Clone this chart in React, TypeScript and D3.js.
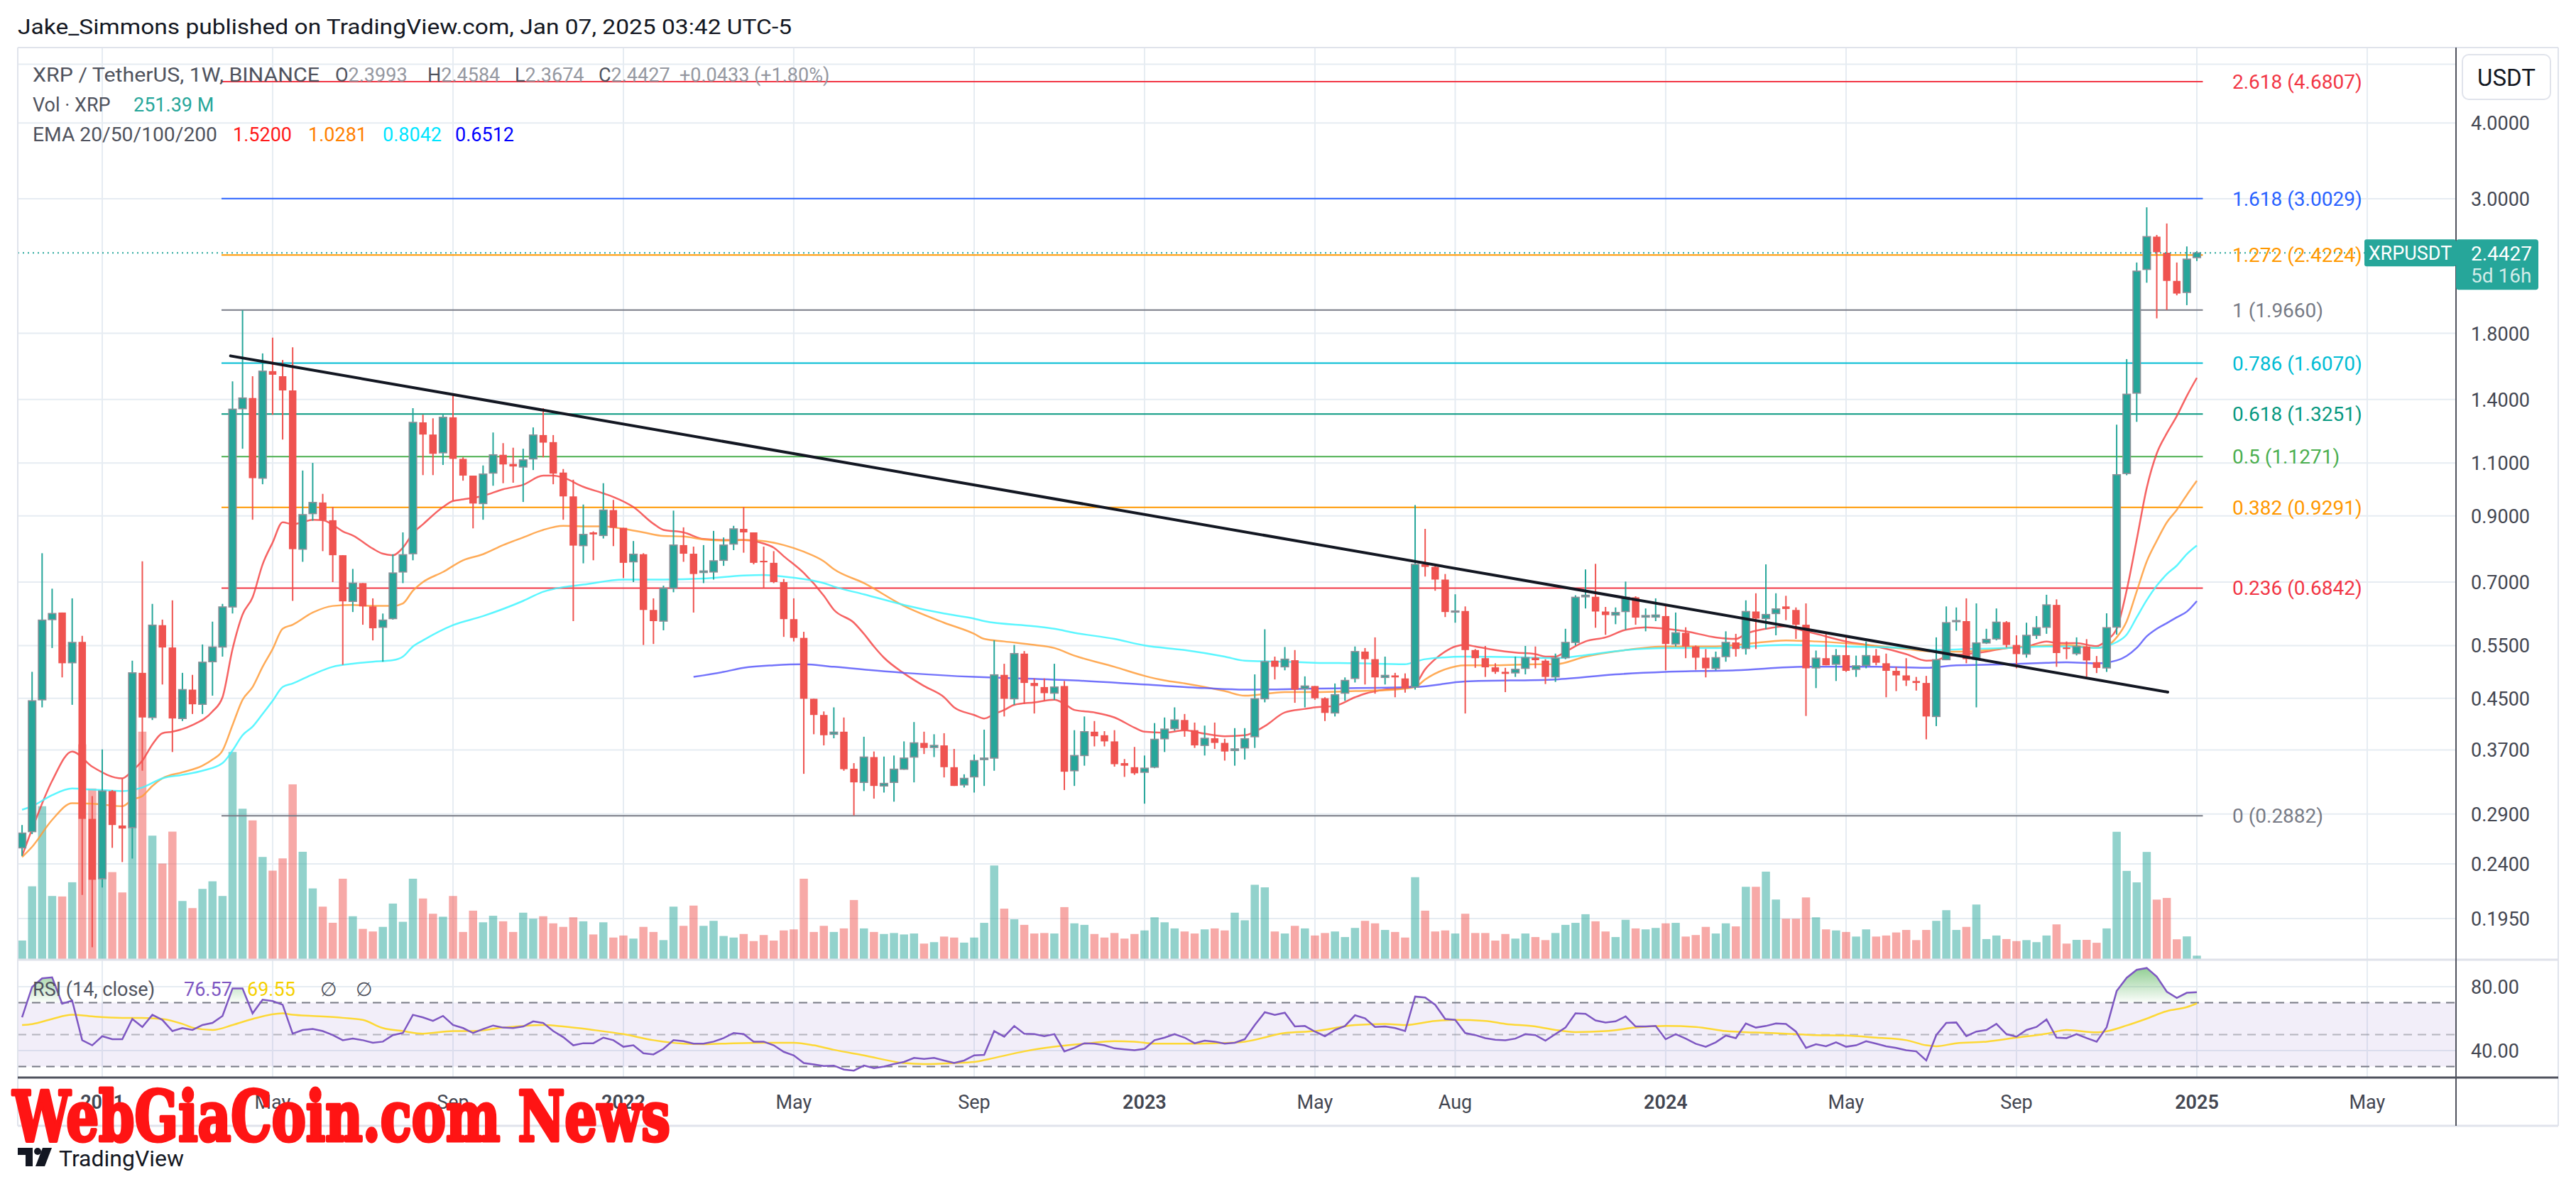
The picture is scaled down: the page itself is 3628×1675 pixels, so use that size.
import React from "react";
import * as d3 from "d3";

// weekly XRP/USDT bars, week 0 = 2021-01-04, first visible bar is week -8
const BASE = Date.UTC(2021, 0, 4);
const WEEK_MS = 7 * 24 * 3600 * 1000;
const FIRST_WEEK = -8;

const opens = [
  .2551, .2713, .4476, .6069, .6234, .5152, .5576, .2848, .2269, .3165,
  .2777, .2755, .4958, .4185, .5942, .5459, .4169, .4652, .44, .5172,
  .5469, .6368, 1.3519, 1.4077, 1.0384, 1.5589, 1.5292, 1.4489, .793, .9075,
  .9468, .8851, .775, .6504, .6971, .638, .5895, .6092, .7272, .7794,
  1.2834, 1.2255, 1.1434, 1.3083, 1.1173, 1.0485, .943, 1.0587, 1.1346, 1.096,
  1.0834, 1.1173, 1.2231, 1.1907, 1.0607, .9689, .8038, .8451, .8354, .9198,
  .8599, .7558, .7779, .6295, .6034, .6838, .8054, .7794, .7258, .7272,
  .7602, .8085, .8565, .8451, .7587, .7529, .6998, .608, .5662, .4493,
  .4225, .3927, .3965, .3445, .3271, .3601, .3227, .3271, .3439, .3601,
  .38, .3735, .3764, .3465, .324, .334, .3567, .3587, .492, .4493,
  .5334, .4771, .4698, .459, .4716, .3419, .3622, .3965, .3912, .3822,
  .3519, .3465, .3399, .3465, .386, .4012, .4145, .3988, .3764, .3867,
  .38, .3692, .3728, .389, .4493, .5192, .5073, .5202, .467, .4716,
  .4502, .4258, .459, .4854, .5375, .5222, .4873, .491, .4854, .4698,
  .7485, .7414, .7065, .6246, .627, .5406, .5242, .5063, .4977, .4958,
  .5044, .5252, .5192, .4882, .5252, .5565, .6618, .6618, .6258, .6175,
  .6258, .6605, .6127, .6127, .6151, .5533, .5772, .548, .5252, .5044,
  .5273, .5565, .5438, .6258, .6092, .621, .638, .6295, .5952, .5053,
  .5242, .5122, .5303, .5025, .5102, .5293, .5142, .4996, .491, .4807,
  .4771, .4201, .5212, .6022, .6034, .5222, .5554, .564, .601, .5512,
  .5324, .5717, .5895, .6417, .5459, .5334, .5478, .5163, .5052, .5898,
  1.057, 1.434, 2.294, 2.598, 2.444, 2.196, 2.102, 2.3993,
];
const highs = [
  .2782, .4977, .7809, .6825, .6234, .6579, .5706, .3105, .3706, .3177,
  .3321, .5192, .7573, .6442, .6069, .6529, .4958, .492, .5522, .6022,
  .6442, 1.5, 1.964, 1.5292, 1.6676, 1.7703, 1.6264, 1.7066, 1.0689, 1.1003,
  .9783, .9305, .775, .7357, .6971, .6579, .621, .7779, .8451, 1.3545,
  1.321, 1.3033, 1.321, 1.4213, 1.1238, 1.0485, 1.0897, 1.235, 1.1861, 1.1657,
  1.1612, 1.259, 1.3545, 1.2231, 1.0751, 1.0323, .9395, .8484, 1.0187, .956,
  .8599, .8179, .7809, .6579, .6905, .918, .8615, .8007, .8054, .85,
  .829, .8665, .9305, .8451, .8007, .787, .7079, .6579, .5794, .4493,
  .4282, .4349, .4185, .3519, .389, .3678, .3608, .3622, .3822, .4113,
  .3965, .3927, .3942, .3714, .3373, .3636, .3996, .5608, .5132, .5512,
  .5386, .4854, .4854, .5132, .4807, .3988, .4201, .4129, .3973, .3988,
  .3574, .3742, .3622, .4097, .4185, .4349, .4241, .4105, .4058, .4105,
  .386, .4019, .4019, .4929, .585, .5273, .5469, .5406, .4892, .4716,
  .4519, .4762, .4873, .548, .5448, .5673, .5273, .4958, .4948, .9377,
  .8565, .7456, .7216, .6681, .638, .5427, .5491, .5142, .5053, .5273,
  .5491, .548, .5222, .5334, .5861, .6656, .7343, .75, .6368, .6356,
  .7011, .663, .6331, .6579, .6429, .6234, .5895, .5501, .5427, .5375,
  .5805, .575, .6529, .6707, .7485, .6707, .6643, .6356, .6454, .5396,
  .575, .5427, .5717, .5293, .5586, .5427, .5334, .5073, .5242, .4882,
  .4901, .5673, .638, .6356, .6579, .6454, .5861, .6331, .6034, .5717,
  .5998, .6151, .6669, .6554, .5586, .5673, .5635, .5285, .6216, 1.272,
  1.632, 2.355, 2.904, 2.615, 2.731, 2.355, 2.503, 2.4584,
];
const lows = [
  .2474, .2688, .4349, .5448, .4873, .4391, .2133, .1749, .2195, .2551,
  .2417, .245, .3419, .4145, .4743, .3671, .4129, .4241, .4241, .4546,
  .5273, .621, 1.1612, .8868, 1.0147, 1.321, 1.2023, .6516, .7558, .8834,
  .787, .6998, .5112, .6246, .5952, .5608, .5172, .6069, .6971, .7602,
  1.0505, 1.0505, 1.0918, .9541, 1.0285, .8582, .8868, 1.0089, 1.0187, 1.0206,
  .9486, 1.0709, 1.1238, 1.0147, .8868, .6034, .7515, .7602, .8258, .8022,
  .7106, .6998, .5512, .5533, .5827, .6733, .7558, .6234, .6971, .7065,
  .7443, .79, .7824, .7485, .6838, .6971, .5684, .5586, .3379, .3927,
  .3764, .3867, .3419, .2886, .3165, .3075, .3147, .304, .3432, .3271,
  .3643, .3601, .3333, .3227, .3208, .3147, .3227, .3419, .4201, .4391,
  .4408, .4249, .4459, .4476, .3177, .3227, .3485, .375, .375, .3472,
  .334, .3366, .3017, .3452, .3671, .3981, .389, .3728, .3622, .3714,
  .3553, .3485, .3567, .3728, .4433, .4835, .5006, .4425, .4349, .4476,
  .4129, .4201, .4459, .478, .4743, .4581, .4743, .4519, .4599, .4652,
  .7147, .6772, .6128, .5998, .4249, .5053, .4882, .4939, .4608, .4882,
  .4929, .5044, .4752, .479, .5222, .5501, .6331, .5884, .5728, .5964,
  .5839, .5952, .5805, .6034, .5006, .548, .5242, .5015, .4873, .5006,
  .5172, .5273, .5314, .5427, .585, .5717, .6057, .564, .4209, .4679,
  .5102, .4807, .4977, .4882, .5044, .5102, .4519, .4626, .4716, .4635,
  .3852, .405, .5202, .5817, .5142, .4349, .5533, .5608, .5459, .5044,
  .5252, .564, .575, .5073, .5222, .5297, .4889, .4954, .4976, .5734,
  1.05, 1.286, 2.181, 1.905, 1.968, 2.079, 2.003, 2.3674,
];
const closes = [
  .2698, .4459, .6057, .621, .5142, .5565, .2848, .226, .3165, .2782,
  .2745, .4958, .4185, .5942, .5459, .4169, .4652, .44, .5162, .5469,
  .6368, 1.3493, 1.4077, 1.0384, 1.5589, 1.538, 1.4489, .793, .904, .9468,
  .8851, .775, .6504, .6971, .638, .5872, .6057, .7244, .7764, 1.2834,
  1.2255, 1.139, 1.3083, 1.1173, 1.0485, .943, 1.0546, 1.1346, 1.0939, 1.0855,
  1.113, 1.2231, 1.1884, 1.0566, .9689, .8038, .8386, .8386, .9198, .8599,
  .7529, .7779, .6295, .6034, .6838, .8054, .7794, .7216, .73, .7587,
  .8054, .8565, .8451, .7529, .7544, .6998, .608, .5662, .4493, .4225,
  .3912, .3958, .3439, .3271, .3601, .3227, .3258, .3439, .3587, .38,
  .3728, .3764, .3465, .3227, .3321, .3553, .3587, .492, .4493, .5334,
  .4771, .4716, .459, .4698, .3406, .3622, .3965, .3897, .3822, .3505,
  .3485, .3386, .3452, .3852, .4004, .4145, .3988, .3764, .3867, .38,
  .3678, .3714, .386, .4493, .5172, .5073, .5222, .4652, .4716, .4502,
  .4258, .4563, .4817, .5375, .5222, .4873, .491, .4873, .4679, .7485,
  .7414, .7065, .6246, .627, .5406, .5242, .5063, .4977, .4939, .5025,
  .5252, .5202, .4882, .5242, .5565, .6605, .6656, .6258, .6175, .6234,
  .6605, .6115, .6163, .6175, .5533, .5772, .548, .5252, .5044, .5252,
  .5565, .5427, .6258, .6092, .6187, .6319, .6319, .5952, .5044, .5242,
  .5102, .5293, .4996, .5092, .5293, .5152, .4996, .491, .4817, .4771,
  .4201, .5212, .5998, .6046, .5222, .5554, .563, .601, .5512, .5324,
  .5717, .5884, .6417, .5345, .5427, .5478, .5197, .5052, .5885, 1.052,
  1.428, 2.279, 2.598, 2.449, 2.196, 2.093, 2.385, 2.4427,
];
// volume in millions of XRP
const volumes = [
  1190, 4550, 9515, 3950, 3920, 4800, 13350, 10615, 10460, 5430,
  4170, 11000, 14135, 7690, 5960, 7940, 3640, 3200, 4390, 4860,
  3950, 12880, 9360, 8635, 6370, 5520, 6280, 10870, 6690, 4420,
  3290, 2290, 5020, 2695, 1910, 1750, 2035, 3480, 2350, 5020,
  3795, 2850, 2665, 3950, 1720, 3040, 2320, 2725, 2380, 1720,
  2915, 2540, 2695, 2255, 2035, 2630, 2380, 1565, 2320, 1375,
  1500, 1310, 2035, 1720, 1215, 3290, 2100, 3355, 2100, 2410,
  1470, 1375, 1595, 1155, 1530, 1185, 1815, 1880, 5020, 1720,
  2100, 1720, 1940, 3700, 1940, 1720, 1595, 1655, 1565, 1625,
  1000, 1090, 1435, 1375, 1060, 1375, 2285, 5840, 3165, 2505,
  2160, 1625, 1655, 1625, 3260, 2255, 2160, 1595, 1375, 1655,
  1310, 1595, 1815, 2630, 2320, 1940, 1750, 1625, 1880, 1940,
  1815, 2915, 2445, 4645, 4485, 1750, 1625, 2100, 1940, 1500,
  1655, 1750, 1405, 1970, 2410, 2255, 1845, 1720, 1375, 5115,
  3040, 1750, 1815, 1625, 2850, 1655, 1655, 1185, 1595, 1310,
  1625, 1405, 1215, 1655, 2160, 2285, 2820, 2380, 1750, 1405,
  2475, 1940, 1880, 1970, 2255, 2285, 1435, 1530, 2035, 1625,
  2255, 2065, 4520, 4520, 5460, 3730, 2540, 2540, 3860, 2630,
  1880, 1815, 1720, 1435, 1880, 1435, 1500, 1690, 1845, 1215,
  1845, 2410, 3070, 1845, 2035, 3420, 1280, 1500, 1280, 1155,
  1215, 1090, 1500, 2190, 1000, 1230, 1230, 1050, 1940, 7930,
  5505, 4795, 6680, 3725, 3830, 1265, 1445, 251.39,
];
const rsiValues = [
  60.8, 79.8, 85.2, 85.9, 69.4, 71.3, 46.5, 43.3, 49.0, 47.1,
  47.1, 59.8, 54.8, 62.4, 59.2, 52.2, 54.1, 52.9, 56.0, 57.3,
  61.7, 78.9, 78.9, 63.3, 71.9, 71.0, 68.7, 50.6, 52.9, 53.5,
  52.2, 49.7, 46.5, 47.5, 46.5, 44.9, 45.6, 49.7, 51.0, 62.4,
  60.8, 58.6, 61.7, 56.0, 54.1, 51.0, 53.5, 55.7, 54.4, 54.1,
  55.1, 58.3, 57.3, 52.2, 48.4, 43.3, 44.6, 44.6, 48.1, 46.5,
  42.4, 43.3, 38.3, 37.6, 41.1, 46.5, 45.9, 44.3, 44.3, 45.6,
  47.8, 51.0, 50.3, 45.6, 45.6, 43.3, 39.2, 37.0, 32.2, 31.3,
  30.3, 30.6, 28.1, 27.5, 30.6, 29.0, 30.0, 31.6, 32.9, 35.4,
  34.8, 35.4, 33.8, 32.2, 33.8, 37.0, 37.3, 52.2, 48.7, 55.4,
  50.6, 50.3, 49.0, 50.3, 39.5, 41.7, 44.6, 44.3, 43.3, 41.4,
  40.8, 40.2, 41.1, 46.5, 48.1, 50.3, 48.1, 44.6, 46.2, 45.6,
  44.3, 44.9, 47.1, 56.0, 64.0, 62.4, 63.7, 55.1, 55.4, 51.9,
  49.0, 52.9, 55.4, 62.1, 60.2, 54.8, 55.1, 54.1, 52.2, 73.8,
  73.2, 68.7, 59.8, 59.2, 51.0, 49.7, 47.8, 46.8, 46.5, 47.5,
  50.3, 49.7, 46.2, 50.3, 54.4, 63.3, 63.0, 58.9, 57.6, 58.3,
  61.4, 55.1, 55.1, 55.4, 47.1, 50.3, 47.5, 44.3, 42.4, 45.2,
  49.4, 47.8, 57.0, 54.4, 55.4, 57.0, 56.7, 51.9, 41.7, 44.0,
  42.7, 45.2, 42.4, 43.3, 45.9, 44.3, 42.7, 41.7, 40.2, 39.5,
  33.8, 49.7, 57.3, 57.6, 49.0, 51.9, 52.9, 56.7, 50.3, 48.7,
  52.9, 54.8, 59.5, 48.1, 47.8, 50.3, 47.8, 45.6, 54.6, 77.3,
  85.6, 90.6, 91.7, 86.3, 76.9, 73.0, 76.2, 76.57,
];
// [week, value] readings of the smooth lines
const rsiMa = [
  [-8, 56.0], [-7, 56.6], [-5, 59.8], [-3, 62.4], [-1, 61.4], [2, 60.5], [4, 60.5], [6, 59.8],
  [8, 56.7], [9, 54.4], [11, 52.9], [13, 56.0], [15, 59.8], [18, 63.3], [19, 62.4], [21, 61.7],
  [24, 60.5], [26, 59.2], [28, 54.1], [30, 52.2], [32, 50.6], [35, 52.2], [37, 52.2], [40, 54.4],
  [44, 56.0], [46, 55.1], [49, 52.9], [52, 50.3], [55, 46.5], [58, 44.3], [60, 44.0], [63, 44.6],
  [66, 44.9], [69, 44.9], [71, 43.3], [73, 40.5], [76, 37.0], [80, 32.2], [82, 31.6], [85, 32.2],
  [87, 32.9], [89, 35.4], [92, 39.5], [95, 42.4], [98, 44.3], [101, 45.9], [103, 45.6], [105, 44.3],
  [108, 44.3], [111, 44.6], [114, 45.6], [118, 51.0], [121, 52.2], [125, 56.0], [128, 56.7], [130, 56.0],
  [133, 58.6], [135, 59.2], [138, 58.6], [140, 56.7], [143, 55.1], [145, 52.9], [147, 51.6], [150, 52.2],
  [153, 54.4], [156, 55.4], [159, 54.8], [162, 52.2], [165, 51.3], [168, 50.6], [171, 49.7], [174, 49.4],
  [177, 48.1], [180, 46.5], [182, 43.3], [183, 42.7], [185, 44.6], [188, 45.6], [191, 48.1], [194, 50.6],
  [196, 52.9], [199, 51.4], [200, 52.1], [202, 55.7], [204, 60.0], [206, 64.7], [208, 67.2], [209, 69.55],
];
const ema20 = [
  [-8, .2474], [-7, .2739], [-5, .329], [-3, .3678], [-1, .3472], [2, .3321], [3, .3419], [4, .3553],
  [5, .3778], [6, .3942], [7, .3965], [9, .4066], [11, .4282], [12, .4519], [13, .5427], [14, .6187],
  [15, .6605], [16, .7485], [17, .8131], [18, .8783], [19, .8715], [20, .8783], [21, .8868], [22, .8851],
  [23, .8698], [24, .8484], [25, .8354], [27, .7945], [28, .7794], [29, .775], [30, .7976], [31, .8419],
  [32, .8715], [34, .9305], [35, .9523], [36, .9578], [38, .9708], [40, .9954], [42, 1.0128], [44, 1.0485],
  [45, 1.0485], [46, 1.0404], [48, 1.005], [50, .9801], [51, .967], [53, .9305], [55, .8732], [56, .8533],
  [58, .8451], [60, .8241], [62, .821], [64, .821], [66, .81], [67, .7976], [68, .772], [70, .7244],
  [72, .6643], [73, .63], [75, .5998], [76, .575], [77, .548], [78, .5252], [80, .4948], [82, .4716],
  [84, .4519], [85, .4349], [87, .4225], [88, .4169], [89, .4241], [90, .4307], [91, .4391], [93, .4433],
  [95, .4476], [96, .4408], [97, .4307], [99, .4266], [101, .4185], [103, .4027], [104, .3965], [106, .395],
  [108, .3988], [110, .3935], [112, .3897], [114, .3912], [116, .405], [118, .4266], [120, .4324], [121, .4349],
  [123, .4374], [125, .4519], [126, .4581], [128, .4652], [130, .4679], [131, .4743], [132, .5025], [133, .5222],
  [134, .5375], [135, .548], [136, .5512], [137, .548], [139, .5406], [141, .5355], [143, .5324], [144, .5273],
  [145, .5273], [146, .5375], [148, .5586], [150, .5673], [152, .5839], [154, .5895], [156, .5861], [158, .5805],
  [161, .5673], [163, .564], [164, .575], [166, .5861], [168, .5918], [169, .5861], [171, .575], [174, .5586],
  [177, .548], [180, .5324], [182, .5192], [183, .5202], [184, .5273], [186, .5324], [188, .5375], [190, .5448],
  [192, .548], [194, .5586], [195, .5554], [197, .5549], [199, .5488], [200, .5611], [201, .5861], [202, .6785],
  [203, .822], [204, 1.0005], [205, 1.1407], [206, 1.2311], [207, 1.3144], [208, 1.4188], [209, 1.52],
];
const ema50 = [
  [-8, .2464], [-7, .2561], [-5, .2837], [-3, .3023], [-1, .3017], [2, .2988], [3, .3064], [4, .3105],
  [5, .3227], [6, .3321], [8, .3399], [10, .3485], [11, .3567], [12, .3692], [13, .4066], [14, .4476],
  [15, .4698], [16, .5073], [17, .5427], [18, .5861], [19, .5952], [21, .6234], [23, .6392], [25, .6417],
  [27, .6392], [29, .6392], [30, .6454], [31, .6772], [32, .6998], [34, .7272], [36, .7602], [38, .7779],
  [40, .8054], [42, .829], [44, .8533], [46, .8665], [48, .8648], [50, .8648], [52, .8565], [54, .8451],
  [56, .8338], [58, .8322], [60, .8226], [62, .8194], [64, .821], [66, .8179], [68, .8054], [70, .7854],
  [72, .7573], [73, .735], [76, .6971], [80, .6392], [84, .5998], [87, .575], [88, .564], [90, .5586],
  [93, .5512], [95, .5448], [97, .5293], [101, .5073], [104, .4901], [106, .4817], [108, .4762], [112, .4626],
  [114, .4546], [118, .4608], [121, .4608], [125, .4626], [129, .4652], [131, .4698], [132, .4835], [134, .5025],
  [136, .5102], [139, .5102], [143, .5122], [145, .5122], [148, .5273], [152, .5406], [156, .548], [161, .548],
  [164, .5533], [168, .5608], [171, .5586], [176, .5512], [180, .5427], [183, .5375], [186, .5375], [190, .5448],
  [194, .5501], [196, .5512], [199, .5451], [200, .5488], [201, .5673], [202, .603], [203, .6756], [204, .7566],
  [205, .8184], [206, .8776], [207, .9208], [208, .9745], [209, 1.0281],
];
const ema100 = [
  [-8, .2948], [-7, .2988], [-5, .3117], [-3, .3196], [-1, .3183], [2, .3165], [4, .3208], [6, .3321],
  [8, .3366], [10, .3419], [12, .3519], [13, .3692], [14, .3912], [15, .4042], [16, .4241], [17, .4459],
  [18, .4698], [19, .4762], [21, .4929], [23, .5073], [25, .5132], [27, .5172], [29, .5202], [30, .5273],
  [31, .548], [32, .5608], [35, .5942], [38, .6151], [42, .6516], [44, .6746], [46, .6865], [48, .6931],
  [52, .7065], [56, .7065], [60, .7092], [64, .7175], [66, .7189], [68, .7147], [70, .7079], [72, .6971],
  [73, .688], [76, .6681], [80, .6417], [84, .621], [87, .6092], [88, .6034], [93, .5918], [95, .5861],
  [97, .5772], [101, .564], [104, .5501], [108, .5406], [112, .5273], [114, .5192], [118, .5172], [121, .5152],
  [125, .5142], [130, .5122], [131, .5172], [132, .5222], [136, .5273], [141, .5263], [145, .5242], [148, .5303],
  [152, .5406], [156, .5448], [161, .5448], [168, .5512], [174, .548], [180, .5448], [183, .5406], [186, .5427],
  [190, .5448], [194, .548], [196, .548], [199, .5451], [200, .5488], [201, .5573], [202, .5734], [203, .6122],
  [204, .6537], [205, .6903], [206, .7211], [207, .7451], [208, .7784], [209, .8042],
];
const ema200 = [
  [59, .4882], [62, .4977], [64, .5053], [67, .5102], [70, .5122], [73, .5073], [80, .4958], [87, .4882],
  [90, .4863], [97, .4817], [104, .4743], [110, .4679], [114, .4652], [121, .467], [131, .4698], [136, .4798],
  [145, .4835], [151, .4929], [156, .4977], [163, .5006], [170, .5073], [177, .5073], [182, .5053], [185, .5102],
  [190, .5122], [194, .5152], [196, .5162], [199, .5139], [201, .5197], [202, .5288], [203, .5451], [204, .5695],
  [205, .5861], [206, .5988], [207, .6122], [208, .6256], [209, .6512],
];
const emaNames = ["EMA 20", "EMA 50", "EMA 100", "EMA 200"];
const emaLast = ["1.5200", "1.0281", "0.8042", "0.6512"];

const fibRatios = ["2.618", "1.618", "1.272", "1", "0.786", "0.618", "0.5", "0.382", "0.236", "0"];
const fibPrices = [4.6807, 3.0029, 2.4224, 1.966, 1.607, 1.3251, 1.1271, 0.9291, 0.6842, 0.2882];
const fibColors = ["#f23645", "#2962ff", "#ff9800", "#787b86", "#00bcd4", "#089981", "#4caf50", "#ff9800", "#f23645", "#787b86"];
const fibWeeks = [11.9, 209.6];
const trendLine = [[12.8, 1.652], [206.1, 0.4609]];

const priceTicks = [5, 4, 3, 1.8, 1.4, 1.1, 0.9, 0.7, 0.55, 0.45, 0.37, 0.29, 0.24, 0.195];
const rsiTicks = [80, 40];
const timeTicks = [
  ["2021-01-04", "2021"], ["2021-05-03", "May"], ["2021-09-06", "Sep"], ["2022-01-03", "2022"],
  ["2022-05-02", "May"], ["2022-09-05", "Sep"], ["2023-01-02", "2023"], ["2023-05-01", "May"],
  ["2023-08-07", "Aug"], ["2024-01-01", "2024"], ["2024-05-06", "May"], ["2024-09-02", "Sep"],
  ["2025-01-06", "2025"], ["2025-05-05", "May"],
];

const W = 3628, H = 1675;
const L = 25, T = 67, AX = 3459, R = 3603;
const MAIN_B = 1352, RSI_B = 1518, TIME_B = 1586;
const UP = "#26a69a", DOWN = "#ef5350";
const FONT = "Roboto, 'Liberation Sans', Arial, sans-serif";
const GRID = "#e6ecf2";

const weekDate = (w: number) => new Date(BASE + w * WEEK_MS);

export default function App() {
  const x = d3.scaleUtc().domain([weekDate(0), weekDate(209)]).range([144, 3094]);
  const y = d3.scaleLog().domain([3, 0.3]).range([280, 280 + 371 * Math.LN10]);
  const yVol = d3.scaleLinear().domain([0, 44000]).range([MAIN_B, 352]);
  const yRsi = d3.scaleLinear().domain([80, 40]).range([1390, 1480]);
  const xw = (w: number) => x(weekDate(w));

  const smooth = d3.line<number[]>().x((d) => xw(d[0])).y((d) => y(d[1])).curve(d3.curveMonotoneX);
  const rsiLine = d3.line<number>().x((_, k) => xw(k + FIRST_WEEK)).y((d) => yRsi(d));
  const rsiArea = d3.area<number>().x((_, k) => xw(k + FIRST_WEEK)).y0(yRsi(70)).y1((d) => yRsi(d));
  const maLine = d3.line<number[]>().x((d) => xw(d[0])).y((d) => yRsi(d[1])).curve(d3.curveMonotoneX);

  const emaSeries = [ema20, ema50, ema100, ema200];
  const emaColors = ["#f44848", "#ff9c3a", "#3ff5ff", "#5a5afa"];
  const emaText = ["#ff1a1a", "#ff8000", "#00e5ff", "#0000ff"];

  const lastClose = closes[closes.length - 1];
  const lastY = y(lastClose);

  return (
    <svg width={W} height={H} viewBox={`0 0 ${W} ${H}`} fontFamily={FONT}
      style={{ position: "absolute", left: 0, top: 0, background: "#fff" }}>
      <defs>
        <clipPath id="mainClip"><rect x={L} y={T} width={AX - L} height={MAIN_B - T} /></clipPath>
        <clipPath id="rsiClip"><rect x={L} y={MAIN_B} width={AX - L} height={RSI_B - MAIN_B} /></clipPath>
        <clipPath id="obClip"><rect x={L} y={MAIN_B} width={AX - L} height={yRsi(70) - MAIN_B} /></clipPath>
        <linearGradient id="obGrad" gradientUnits="userSpaceOnUse" x1={0} y1={1360} x2={0} y2={yRsi(70)}>
          <stop offset="0" stopColor="#4caf50" stopOpacity={0.65} />
          <stop offset="1" stopColor="#4caf50" stopOpacity={0.02} />
        </linearGradient>
      </defs>
      <rect x={0} y={0} width={W} height={H} fill="#fff" />

      {/* header */}
      <text x={25} y={48} fontSize={29} fill="#131722" textLength={1090} lengthAdjust="spacingAndGlyphs">
        Jake_Simmons published on TradingView.com, Jan 07, 2025 03:42 UTC-5
      </text>

      {/* grid */}
      {priceTicks.map((p) => (
        <line key={"hg" + p} x1={L} x2={AX} y1={y(p)} y2={y(p)} stroke={GRID} strokeWidth={2} />
      ))}
      {rsiTicks.map((v) => (
        <line key={"rg" + v} x1={L} x2={AX} y1={yRsi(v)} y2={yRsi(v)} stroke={GRID} strokeWidth={2} />
      ))}
      {timeTicks.map(([d]) => {
        const xx = x(new Date(d + "T00:00:00Z"));
        return <line key={"vg" + d} x1={xx} x2={xx} y1={T} y2={RSI_B} stroke={GRID} strokeWidth={2} />;
      })}

      {/* main pane */}
      <g clipPath="url(#mainClip)">
        {volumes.map((v, k) => {
          const cx = xw(k + FIRST_WEEK);
          const up = closes[k] >= opens[k];
          return (
            <rect key={"v" + k} x={cx - 5.75} y={yVol(v)} width={11.5} height={MAIN_B - yVol(v)}
              fill={up ? "rgba(38,166,154,0.5)" : "rgba(239,83,80,0.5)"} />
          );
        })}
        {fibPrices.map((p, k) => (
          <line key={"fib" + k} x1={xw(fibWeeks[0])} x2={xw(fibWeeks[1])} y1={y(p)} y2={y(p)}
            stroke={fibColors[k]} strokeWidth={2} />
        ))}
        {emaSeries.map((s, k) => (
          <path key={"ema" + k} d={smooth(s) || ""} fill="none" stroke={emaColors[k]} strokeWidth={2.5} strokeOpacity={0.85} />
        ))}
        {closes.map((c, k) => {
          const o = opens[k];
          const up = c >= o;
          const cx = xw(k + FIRST_WEEK);
          const top = y(Math.max(o, c));
          const bot = y(Math.min(o, c));
          return (
            <g key={"c" + k}>
              <line x1={cx} x2={cx} y1={y(highs[k])} y2={y(lows[k])} stroke={up ? UP : DOWN} strokeWidth={2} />
              <rect x={cx - 5.25} y={top} width={10.5} height={Math.max(1.5, bot - top)}
                fill={up ? UP : DOWN} stroke={up ? "#8b8e96" : "none"} strokeWidth={1.6} />
            </g>
          );
        })}
        <line x1={xw(trendLine[0][0])} y1={y(trendLine[0][1])} x2={xw(trendLine[1][0])} y2={y(trendLine[1][1])}
          stroke="#131722" strokeWidth={4} strokeLinecap="round" />
        <line x1={L} x2={3330} y1={lastY} y2={lastY} stroke={UP} strokeWidth={2} strokeDasharray="2 5" />
      </g>

      {/* fib labels */}
      {fibPrices.map((p, k) => (
        <text key={"fl" + k} x={3144} y={y(p) + 10} fontSize={28} fill={fibColors[k]}>
          {`${fibRatios[k]} (${p.toFixed(4)})`}
        </text>
      ))}

      {/* legend */}
      <g fontSize={27}>
        <text x={46} y={115} fill="#50535e" textLength={404} lengthAdjust="spacingAndGlyphs">XRP / TetherUS, 1W, BINANCE</text>
        {[["O", opens], ["H", highs], ["L", lows], ["C", closes]].map(([lab, arr], k) => (
          <text key={"ohlc" + k} x={[472, 602, 725, 843][k]} y={115}>
            <tspan fill="#50535e">{lab as string}</tspan>
            <tspan fill="#9598a1">{(arr as number[])[(arr as number[]).length - 1].toFixed(4)}</tspan>
          </text>
        ))}
        <text x={957} y={115} fill="#9598a1">+0.0433 (+1.80%)</text>
        <text x={46} y={157} fill="#50535e">Vol · XRP</text>
        <text x={188} y={157} fill={UP}>{`${volumes[volumes.length - 1]} M`}</text>
        <text x={46} y={199} fill="#50535e" textLength={260} lengthAdjust="spacingAndGlyphs">EMA 20/50/100/200</text>
        {emaLast.map((v, k) => (
          <text key={"el" + k} x={[328, 434, 539, 641][k]} y={199} fill={emaText[k]}>
            <title>{emaNames[k]}</title>{v}
          </text>
        ))}
      </g>

      {/* RSI pane */}
      <g clipPath="url(#rsiClip)">
        <rect x={L} y={yRsi(70)} width={AX - L} height={yRsi(30) - yRsi(70)} fill="rgba(126,87,194,0.1)" />
        {[70, 50, 30].map((v) => (
          <line key={"lvl" + v} x1={L} x2={AX} y1={yRsi(v)} y2={yRsi(v)}
            stroke="#787b86" strokeOpacity={v === 50 ? 0.5 : 1} strokeWidth={2} strokeDasharray="12 8" />
        ))}
        <path d={rsiArea(rsiValues) || ""} fill="url(#obGrad)" clipPath="url(#obClip)" />
        <path d={maLine(rsiMa) || ""} fill="none" stroke="#fdd835" strokeWidth={2.5} />
        <path d={rsiLine(rsiValues) || ""} fill="none" stroke="#7e57c2" strokeWidth={2.5} />
      </g>
      <g fontSize={27}>
        <text x={46} y={1403} fill="#50535e">RSI (14, close)</text>
        <text x={259} y={1403} fill="#7e57c2">{rsiValues[rsiValues.length - 1].toFixed(2)}</text>
        <text x={348} y={1403} fill="#f5d000">{rsiMa[rsiMa.length - 1][1].toFixed(2)}</text>
        <text x={451} y={1403} fill="#50535e">∅</text>
        <text x={501} y={1403} fill="#50535e">∅</text>
      </g>

      {/* frame and separators */}
      <line x1={L} x2={R} y1={T} y2={T} stroke="#e0e3eb" strokeWidth={2} />
      <line x1={L} x2={L} y1={T} y2={TIME_B} stroke="#e0e3eb" strokeWidth={2} />
      <line x1={R} x2={R} y1={T} y2={TIME_B} stroke="#e0e3eb" strokeWidth={2} />
      <line x1={L} x2={R} y1={TIME_B} y2={TIME_B} stroke="#e0e3eb" strokeWidth={3} />
      <line x1={L} x2={R} y1={MAIN_B} y2={MAIN_B} stroke="#dfe2ea" strokeWidth={3} />
      <line x1={L} x2={R} y1={RSI_B} y2={RSI_B} stroke="#50535e" strokeWidth={3} />
      <line x1={AX} x2={AX} y1={T} y2={TIME_B} stroke="#50535e" strokeWidth={2} />

      {/* price axis */}
      <g fontSize={27} fill="#434651">
        {priceTicks.map((p) => (
          <text key={"pl" + p} x={3480} y={y(p) + 10}>{p.toFixed(4)}</text>
        ))}
        {rsiTicks.map((v) => (
          <text key={"rl" + v} x={3480} y={yRsi(v) + 10}>{v.toFixed(2)}</text>
        ))}
      </g>
      <rect x={3468} y={77} width={124} height={63} rx={9} fill="#fff" stroke="#e0e3eb" strokeWidth={2} />
      <text x={3530} y={121} fontSize={33} fill="#131722" textAnchor="middle">USDT</text>

      {/* last price labels */}
      <rect x={3330} y={lastY - 19} width={AX - 3330} height={38} rx={3} fill={UP} />
      <text x={(3330 + AX) / 2} y={lastY + 10} fontSize={27} fill="#fff" textAnchor="middle">XRPUSDT</text>
      <rect x={AX} y={lastY - 19} width={116} height={71} rx={4} fill={UP} />
      <text x={3480} y={lastY + 11} fontSize={28} fill="#fff">{lastClose.toFixed(4)}</text>
      <text x={3480} y={lastY + 42} fontSize={28} fill="#fff" fillOpacity={0.8}>5d 16h</text>

      {/* time axis */}
      <g fontSize={27} fill="#434651" textAnchor="middle">
        {timeTicks.map(([d, lab]) => (
          <text key={"tl" + d} x={x(new Date(d + "T00:00:00Z"))} y={1562}
            fontWeight={/^\d{4}$/.test(lab) ? 600 : 400}>{lab}</text>
        ))}
      </g>

      {/* watermark and logo */}
      <text x={18} y={1607} fontSize={98} fontFamily="'DejaVu Serif', serif" fontWeight={900} fill="#ff1414"
        stroke="#ff1414" strokeWidth={5} strokeLinejoin="round" textLength={926} lengthAdjust="spacingAndGlyphs">
        WebGiaCoin.com News
      </text>
      <path d="M25,1617 H46 V1643 H36 V1627 H25 Z" fill="#131722" />
      <circle cx={53} cy={1622} r={5} fill="#131722" />
      <path d="M60,1617 H73 L63,1643 H50 Z" fill="#131722" />
      <text x={83} y={1643} fontSize={31} fill="#131722" textLength={176} lengthAdjust="spacingAndGlyphs">TradingView</text>
    </svg>
  );
}
